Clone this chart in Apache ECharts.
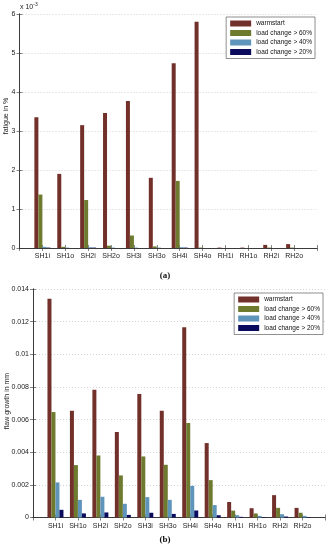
<!DOCTYPE html>
<html>
<head>
<meta charset="utf-8">
<script src="https://cdn.jsdelivr.net/npm/echarts@6/dist/echarts.min.js"></script>
<style>
html,body{margin:0;padding:0;background:#fff;}
#c{width:329px;height:550px;}
</style>
</head>
<body>
<div id="c"></div>
<script>
const categories = ['SH1i','SH1o','SH2i','SH2o','SH3i','SH3o','SH4i','SH4o','RH1i','RH1o','RH2i','RH2o'];
const seriesNames = ['warmstart','load change > 60%','load change > 40%','load change > 20%'];

// (a) fatigue in % (x 10^-3)
const fatigueWarm = [3.35, 1.90, 3.15, 3.46, 3.77, 1.80, 4.74, 5.80, 0.01, 0.01, 0.08, 0.10];
const fatigue60   = [1.37, 0.03, 1.23, 0.06, 0.32, 0.04, 1.72, 0.01, 0, 0, 0.01, 0.01];
const fatigue40   = [0.03, 0.01, 0.02, 0.01, 0.01, 0.01, 0.02, 0, 0, 0, 0, 0];
const fatigue20   = [0.01, 0, 0.01, 0, 0, 0, 0.01, 0, 0, 0, 0, 0];

// (b) flaw growth in mm
const flawWarm = [0.0134, 0.00654, 0.00783, 0.00524, 0.00757, 0.00654, 0.01166, 0.00456, 0.00095, 0.00057, 0.00137, 0.00059];
const flaw60   = [0.00646, 0.00321, 0.00380, 0.00258, 0.00374, 0.00323, 0.00579, 0.00229, 0.00042, 0.00025, 0.00059, 0.00029];
const flaw40   = [0.00215, 0.00108, 0.00127, 0.00084, 0.00125, 0.00108, 0.00194, 0.00076, 0.00014, 0.00010, 0.00020, 0.00010];
const flaw20   = [0.00047, 0.00025, 0.00031, 0.00016, 0.00029, 0.00022, 0.00043, 0.00014, 0.00004, 0.00003, 0.00006, 0.00003];

const yTicksA = [0,1,2,3,4,5,6];
const yTicksB = [0,0.002,0.004,0.006,0.008,0.01,0.012,0.014];

const colors = ['#72302a', '#6e7a2e', '#5f95bb', '#0b0b5e'];
const axisColor = '#333';
const fontFam = '"Liberation Sans", Arial, sans-serif';

function pairs(arr){ return arr.map((v,i)=>[i+1, v]); }

function xAxes(gi){
  return [{
    type:'value', gridIndex:gi, min:0, max:13, interval:1,
    axisLine:{show:true, lineStyle:{color:axisColor, width:0.8}},
    axisTick:{show:true, inside:true, length:3, lineStyle:{color:axisColor, width:0.6}},
    axisLabel:{fontSize:7, color:'#222', fontFamily:fontFam, margin:5,
      formatter:v=> (v>=1 && v<=12) ? categories[v-1] : ''},
    splitLine:{show:false}
  },{
    type:'value', gridIndex:gi, min:0, max:13, interval:1, position:'top',
    axisLine:{show:true, lineStyle:{color:axisColor, width:0.8}},
    axisTick:{show:true, inside:true, length:3, lineStyle:{color:axisColor, width:0.6}},
    axisLabel:{show:false}, splitLine:{show:false}
  }];
}
function yAxes(gi, ticks, fmt){
  const mx = ticks[ticks.length-1], itv = ticks[1]-ticks[0];
  return [{
    type:'value', gridIndex:gi, min:ticks[0], max:mx, interval:itv,
    axisLine:{show:true, lineStyle:{color:axisColor, width:0.8}},
    axisTick:{show:true, inside:true, length:3, lineStyle:{color:axisColor, width:0.6}},
    axisLabel:{fontSize:7, color:'#222', fontFamily:fontFam, margin:4, formatter:fmt},
    splitLine:{show:true, lineStyle:{color:'#c8c8c8', type:[1,2], width:0.8}}
  },{
    type:'value', gridIndex:gi, min:ticks[0], max:mx, interval:itv, position:'right',
    axisLine:{show:true, lineStyle:{color:axisColor, width:0.8}},
    axisTick:{show:true, inside:true, length:3, lineStyle:{color:axisColor, width:0.6}},
    axisLabel:{show:false}, splitLine:{show:false}
  }];
}

const dataA = [fatigueWarm, fatigue60, fatigue40, fatigue20];
const dataB = [flawWarm, flaw60, flaw40, flaw20];
const series = [];
dataA.forEach((d,k)=>series.push({
  name:seriesNames[k], type:'bar', xAxisIndex:0, yAxisIndex:0, data:pairs(d),
  barWidth:4, barGap:'0%', itemStyle:{color:colors[k]}, silent:true
}));
dataB.forEach((d,k)=>series.push({
  name:seriesNames[k], type:'bar', xAxisIndex:2, yAxisIndex:2, data:pairs(d),
  barWidth:4, barGap:'0%', itemStyle:{color:colors[k]}, silent:true
}));

const legendBase = {
  orient:'vertical', itemWidth:21, itemHeight:6, itemGap:2.5,
  padding:[3,3,3,4], borderColor:'#444', borderWidth:0.6, backgroundColor:'#fff',
  textStyle:{fontSize:6.5, color:'#111', fontFamily:fontFam},
  icon:'rect', data:seriesNames, selectedMode:false
};

const option = {
  animation:false,
  grid:[
    {left:19.5, top:14, right:12, bottom:302, containLabel:false},
    {left:33, top:289, right:4, bottom:32.5, containLabel:false}
  ],
  xAxis:[...xAxes(0), ...xAxes(1)],
  yAxis:[...yAxes(0, yTicksA, v=>String(v)), ...yAxes(1, yTicksB, v=>String(v))],
  legend:[
    Object.assign({}, legendBase, {right:14, top:17}),
    Object.assign({}, legendBase, {right:6, top:293})
  ],
  series:series,
  graphic:[
    {type:'text', left:20, top:2, style:{
      text:'{a|x 10}{b|-3}', rich:{
        a:{fontSize:7, fill:'#222', fontFamily:fontFam},
        b:{fontSize:5, fill:'#222', fontFamily:fontFam, verticalAlign:'top', padding:[0,0,5,0]}
      }}},
    {type:'text', x:6, y:116, rotation:Math.PI/2, style:{
      text:'fatigue in %', fontSize:7, fill:'#222', fontFamily:fontFam,
      textAlign:'center', textVerticalAlign:'middle'}},
    {type:'text', x:7, y:401, rotation:Math.PI/2, style:{
      text:'flaw growth in mm', fontSize:7, fill:'#222', fontFamily:fontFam,
      textAlign:'center', textVerticalAlign:'middle'}},
    {type:'text', x:165, y:276, style:{
      text:'(a)', fontSize:9, fontWeight:'bold', fill:'#111', fontFamily:'"Liberation Serif", serif',
      textAlign:'center', textVerticalAlign:'middle'}},
    {type:'text', x:165, y:540, style:{
      text:'(b)', fontSize:9, fontWeight:'bold', fill:'#111', fontFamily:'"Liberation Serif", serif',
      textAlign:'center', textVerticalAlign:'middle'}}
  ]
};
echarts.init(document.getElementById('c'), null, {renderer:'canvas'}).setOption(option);
</script>
</body>
</html>
